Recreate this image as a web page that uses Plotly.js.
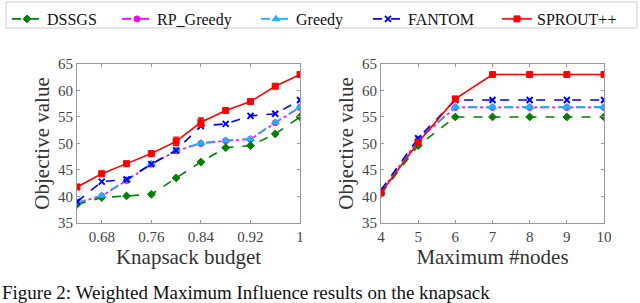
<!DOCTYPE html>
<html><head><meta charset="utf-8">
<script src="https://cdn.plot.ly/plotly-3.0.1.min.js"></script>
<style>html,body{margin:0;padding:0;background:#fff;overflow:hidden}#chart{width:640px;height:303px}</style>
</head><body><div id="chart"></div>
<script>
// Left panel: knapsack budget
const budget = [0.64, 0.68, 0.72, 0.76, 0.80, 0.84, 0.88, 0.92, 0.96, 1.0];
const budgetTicks = [0.68, 0.76, 0.84, 0.92, 1];
const budgetTickText = ['0.68', '0.76', '0.84', '0.92', '1'];
const dssgsA   = [38.5, 39.8, 40.1, 40.4, 43.5, 46.5, 49.2, 49.6, 51.8, 55.0];
const rpGreedyA= [38.8, 40.1, 43.0, 46.1, 48.6, 50.0, 50.5, 50.8, 53.9, 56.8];
const greedyA  = [38.9, 40.2, 43.1, 46.2, 48.7, 50.1, 50.6, 50.9, 54.0, 56.9];
const fantomA  = [39.0, 42.8, 43.2, 46.1, 48.7, 53.3, 53.7, 55.2, 55.6, 58.2];
const sproutA  = [41.8, 44.3, 46.2, 48.1, 50.4, 54.0, 56.2, 57.9, 60.8, 63.0];
const sproutErrA = [0, 0, 0, 0, 0.8, 0.8, 0, 0, 0, 0];

// Right panel: maximum #nodes
const nodes = [4, 5, 6, 7, 8, 9, 10];
const dssgsB   = [40.5, 49.6, 55.0, 55.0, 55.0, 55.0, 55.0];
const rpGreedyB= [40.9, 50.7, 56.8, 56.8, 56.8, 56.8, 56.8];
const greedyB  = [41.0, 50.8, 56.9, 56.9, 56.9, 56.9, 56.9];
const fantomB  = [41.2, 51.0, 58.2, 58.2, 58.2, 58.2, 58.2];
const sproutB  = [40.7, 50.2, 58.4, 63.0, 63.0, 63.0, 63.0];

const names = ['DSSGS', 'RP_Greedy', 'Greedy', 'FANTOM', 'SPROUT++'];
const colors = ['#008000', '#FF00FF', '#1EB4F5', '#0000FF', '#FF0000'];
const symbols = ['diamond', 'circle', 'triangle-up', 'x-thin', 'square'];
const dashes = ['dash', 'dashdot', 'dash', 'dash', 'solid'];
const msize = [6, 6, 7, 6, 6];

const seriesA = [dssgsA, rpGreedyA, greedyA, fantomA, sproutA];
const seriesB = [dssgsB, rpGreedyB, greedyB, fantomB, sproutB];

const font = '"Liberation Serif", "Times New Roman", Times, serif';
const legendIds = ['legend', 'legend2', 'legend3', 'legend4', 'legend5'];
const legendX = [7, 117, 256, 368, 497];

const traces = [];
for (let i = 0; i < 5; i++) {
  const mk = {symbol: symbols[i], size: msize[i], color: colors[i],
              line: {color: colors[i], width: symbols[i] === 'x-thin' ? 2 : 1}};
  const a = {x: budget, y: seriesA[i], name: names[i], type: 'scatter', mode: 'lines+markers',
    line: {color: colors[i], width: 1.6, dash: dashes[i]}, marker: mk,
    xaxis: 'x', yaxis: 'y', legend: legendIds[i], showlegend: true};
  if (i === 4) a.error_y = {type: 'data', array: sproutErrA, visible: true, color: colors[i], thickness: 1.3, width: 3};
  traces.push(a);
  traces.push({x: nodes, y: seriesB[i], name: names[i], type: 'scatter', mode: 'lines+markers',
    line: {color: colors[i], width: 1.6, dash: dashes[i]}, marker: mk,
    xaxis: 'x2', yaxis: 'y2', showlegend: false});
}
// draw RP_Greedy beneath the others
const order = [2, 3, 0, 1, 4, 5, 6, 7, 8, 9];
const data = order.map(k => traces[k]);

const axisCommon = {showline: true, linecolor: '#999', linewidth: 1, mirror: 'ticks', ticks: 'inside',
  ticklen: 3, tickcolor: '#999', showgrid: false, zeroline: false,
  tickfont: {family: font, size: 15, color: '#444'}};
const titleFont = {family: font, size: 21, color: '#333'};

const layout = {
  width: 640, height: 303, margin: {l: 0, r: 0, t: 0, b: 0},
  paper_bgcolor: '#fff', plot_bgcolor: '#fff', font: {family: font, color: '#222'},
  showlegend: true,
  xaxis: Object.assign({}, axisCommon, {domain: [0.1203, 0.4688], range: [0.64, 1.0],
    tickvals: budgetTicks, ticktext: budgetTickText,
    title: {text: 'Knapsack budget', font: titleFont, standoff: 2}}),
  yaxis: Object.assign({}, axisCommon, {domain: [0.264, 0.789], range: [35, 65], dtick: 5,
    title: {text: 'Objective value', font: titleFont, standoff: 2}}),
  xaxis2: Object.assign({}, axisCommon, {domain: [0.5953, 0.9438], range: [4, 10], dtick: 1, anchor: 'y2',
    title: {text: 'Maximum #nodes', font: titleFont, standoff: 2}}),
  yaxis2: Object.assign({}, axisCommon, {domain: [0.264, 0.789], range: [35, 65], dtick: 5, anchor: 'x2',
    title: {text: 'Objective value', font: titleFont, standoff: 2}}),
  shapes: [{type: 'rect', xref: 'paper', yref: 'paper', x0: 6 / 640, x1: 637 / 640,
    y0: 1 - 28 / 303, y1: 1 - 2 / 303, line: {color: '#ccc', width: 1}, fillcolor: 'rgba(0,0,0,0)'}],
  annotations: [{xref: 'paper', yref: 'paper', x: 0, y: 0.075, xanchor: 'left', yanchor: 'top',
    showarrow: false, text: 'Figure 2: Weighted Maximum Influence results on the knapsack',
    font: {family: font, size: 19, color: '#111'}}]
};
for (let i = 0; i < 5; i++) {
  layout[legendIds[i]] = {orientation: 'h', x: legendX[i] / 640, y: 1 - 2 / 303, xanchor: 'left', yanchor: 'top',
    borderwidth: 0, bgcolor: 'rgba(0,0,0,0)', font: {family: font, size: 16, color: '#111'}, itemwidth: 30};
}
Plotly.newPlot('chart', data, layout, {staticPlot: true});
</script></body></html>
